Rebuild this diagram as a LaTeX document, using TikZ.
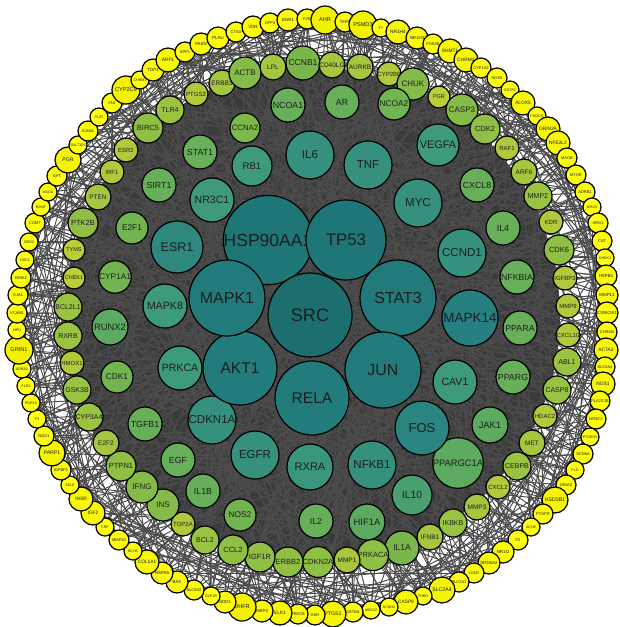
\documentclass[tikz,border=0pt]{standalone}
\usepackage{fontspec}
\setmainfont{Liberation Sans}
\pgfdeclarelayer{disk}
\pgfdeclarelayer{edges}
\pgfsetlayers{disk,edges,main}
\definecolor{txtcol}{HTML}{1E1E1E}
\definecolor{edgecol}{HTML}{4C4C4C}
\definecolor{diskcol}{HTML}{3B3B3B}
\definecolor{srccol}{HTML}{1D6E6E}
\definecolor{h1col}{HTML}{1F7676}
\definecolor{h2col}{HTML}{237C7C}
\definecolor{m1col}{HTML}{267F80}
\definecolor{m2col}{HTML}{3D9A7B}
\definecolor{t1col}{HTML}{3E9A78}
\definecolor{t2col}{HTML}{7CB94A}
\definecolor{q1col}{HTML}{7AB74B}
\definecolor{q2col}{HTML}{BACE38}
\definecolor{o1col}{HTML}{F2F200}
\definecolor{o2col}{HTML}{FFFF10}
\newcommand{\setring}[5]{\def\rcA{#1}\def\rcB{#2}\def\rmin{#3}\def\rmax{#4}\def\fsf{#5}}
\newcommand{\gn}[5]{%
  \pgfmathsetmacro\gd{2*#4}%
  \pgfmathsetmacro\gfs{\fsf*#4}%
  \pgfmathtruncatemacro\gp{max(0,min(100,100*(#4-\rmin)/(\rmax-\rmin)))}%
  \node[gn,minimum size=\gd pt,fill=\rcA!\gp!\rcB,font=\fontsize{\gfs pt}{\gfs pt}\selectfont] (#1) at (#2,#3) {#5};}
\begin{document}
\begin{tikzpicture}[x=1pt,y=-1pt,
  gn/.style={circle,draw=black,line width=1.2pt,inner sep=0pt,text=txtcol},
  lnk/.style={draw=edgecol,line width=0.95pt}]
\useasboundingbox (0,0) rectangle (619,627);
% ---------- outer ring ----------
\setring{o1col}{o2col}{9}{14}{0.4}
\gn{o1}{35}{223}{10}{COMT}
\gn{o2}{41}{207}{9}{BDNF}
\gn{o3}{48}{192}{9}{MAOA}
\gn{o4}{57}{176}{10}{GPT}
\gn{o5}{68}{160}{13}{PGR}
\gn{o6}{78}{145}{9}{SULT1E1}
\gn{o7}{88}{131}{10}{ICAM1}
\gn{o8}{99}{117}{9}{PLAT}
\gn{o9}{112}{103}{10}{F10}
\gn{o10}{126}{90}{14}{CYP2C9}
\gn{o11}{140}{80}{9}{CHRM1}
\gn{o12}{153}{70}{11}{TOP1}
\gn{o13}{168}{60}{12}{ARF1}
\gn{o14}{185}{52}{10}{SPP1}
\gn{o15}{201}{44}{11}{FASN}
\gn{o16}{218}{38}{11}{PLAU}
\gn{o17}{236}{32}{10}{CTSD}
\gn{o18}{253}{27}{11}{VDR}
\gn{o19}{270}{23}{10}{DPP4}
\gn{o20}{288}{20}{11}{EGR1}
\gn{o21}{307}{19}{10}{F2R}
\gn{o22}{325}{20}{14}{AHR}
\gn{o23}{345}{22}{10}{TERT}
\gn{o24}{363}{25}{14}{PSMD3}
\gn{o25}{381}{28}{9}{F7}
\gn{o26}{398}{32}{12}{NR1H4}
\gn{o27}{417}{38}{11}{NR1H3}
\gn{o28}{433}{44}{10}{PDE4B}
\gn{o29}{450}{51}{12}{SHMT1}
\gn{o30}{466}{60}{12}{CHRM2}
\gn{o31}{481}{68}{10}{CYP1A2}
\gn{o32}{497}{78}{10}{NOS3}
\gn{o33}{510}{90}{9}{GSTP1}
\gn{o34}{523}{103}{12}{ALOX5}
\gn{o35}{537}{116}{9}{PIK3CG}
\gn{o36}{548}{129}{12}{GRIN2A}
\gn{o37}{558}{143}{12}{NFE2L2}
\gn{o38}{567}{158}{10}{MAOB}
\gn{o39}{576}{175}{10}{MTOR}
\gn{o40}{585}{192}{10}{ADRB1}
\gn{o41}{592}{207}{9}{NR1I3}
\gn{o42}{598}{223}{10}{ARG1}
\gn{o43}{602}{241}{10}{CAT}
\gn{o44}{605}{258}{9}{CHEK2}
\gn{o45}{606}{276}{11}{HSPB1}
\gn{o46}{607}{295}{11}{MMP13}
\gn{o47}{607}{313}{11}{CSNK2A1}
\gn{o48}{607}{332}{10}{CHRM3}
\gn{o49}{606}{350}{12}{ACTA2}
\gn{o50}{605}{367}{10}{SLC6A4}
\gn{o51}{603}{384}{12}{NOS1}
\gn{o52}{600}{401}{10}{PLA2G1B}
\gn{o53}{596}{419}{10}{NR3C2}
\gn{o54}{590}{437}{9}{PTGER3}
\gn{o55}{583}{454}{10}{SCN5A}
\gn{o56}{575}{470}{9}{PLG}
\gn{o57}{566}{485}{10}{GRIA2}
\gn{o58}{555}{500}{13}{HSD3B1}
\gn{o59}{543}{514}{10}{PTGFR}
\gn{o60}{531}{527}{9}{ACHE}
\gn{o61}{518}{540}{10}{F2}
\gn{o62}{503}{552}{11}{NR1I2}
\gn{o63}{489}{563}{11}{SRD5A2}
\gn{o64}{474}{573}{10}{LDLR}
\gn{o65}{459}{582}{10}{SLC2A1}
\gn{o66}{442}{590}{13}{SLC2A4}
\gn{o67}{423}{596}{9}{THBD}
\gn{o68}{406}{602}{12}{CASP9}
\gn{o69}{389}{607}{9}{KCNH2}
\gn{o70}{371}{610}{9}{ABCG2}
\gn{o71}{353}{612}{10}{GSTM1}
\gn{o72}{333}{614}{13}{PTGS1}
\gn{o73}{315}{615}{10}{GSR}
\gn{o74}{298}{614}{10}{PRKCB}
\gn{o75}{280}{613}{12}{ELK1}
\gn{o76}{262}{611}{11}{MAP2}
\gn{o77}{242}{607}{14}{DHFR}
\gn{o78}{225}{602}{11}{SOD1}
\gn{o79}{211}{596}{9}{GLP1R}
\gn{o80}{194}{590}{10}{SLC6A2}
\gn{o81}{177}{582}{11}{BAX}
\gn{o82}{162}{573}{11}{HSPA5}
\gn{o83}{147}{562}{12}{COL1A1}
\gn{o84}{133}{551}{9}{BCHE}
\gn{o85}{119}{540}{10}{MMP10}
\gn{o86}{105}{527}{9}{CRP}
\gn{o87}{93}{513}{12}{IGF2}
\gn{o88}{81}{499}{12}{INSR}
\gn{o89}{70}{485}{9}{SELE}
\gn{o90}{61}{470}{10}{IGFBP1}
\gn{o91}{52}{453}{13}{PARP1}
\gn{o92}{44}{436}{10}{NQO1}
\gn{o93}{37}{419}{9}{F3}
\gn{o94}{31}{403}{9}{PDE3A}
\gn{o95}{26}{386}{9}{PLD1}
\gn{o96}{22}{369}{9}{ADRB2}
\gn{o97}{19}{350}{14}{GRIN1}
\gn{o98}{17}{330}{9}{MPO}
\gn{o99}{17}{313}{10}{VCAM1}
\gn{o100}{18}{295}{10}{GJA1}
\gn{o101}{21}{278}{10}{GRIK2}
\gn{o102}{25}{260}{9}{ODC1}
\gn{o103}{29}{242}{9}{DRD2}
% ---------- ring 4 ----------
\setring{q1col}{q2col}{11}{17}{0.5}
\gn{q1}{196}{94}{12}{PTGS2}
\gn{q2}{222}{83}{13}{ERBB3}
\gn{q3}{245}{73}{16}{ACTB}
\gn{q4}{273}{67}{13}{LPL}
\gn{q5}{303}{63}{17}{CCNB1}
\gn{q6}{332}{65}{13}{CD40LG}
\gn{q7}{360}{67}{13}{AURKB}
\gn{q8}{389}{74}{12}{CYP2B6}
\gn{q9}{413}{84}{16}{CHUK}
\gn{q10}{439}{97}{11}{PGR}
\gn{q11}{462}{110}{16}{CASP3}
\gn{q12}{485}{129}{15}{CDK2}
\gn{q13}{507}{148}{12}{RAF1}
\gn{q14}{524}{172}{13}{ARF6}
\gn{q15}{538}{196}{14}{MMP2}
\gn{q16}{551}{222}{12}{KDR}
\gn{q17}{559}{250}{15}{CDK6}
\gn{q18}{565}{278}{12}{IGFBP3}
\gn{q19}{568}{306}{12}{MMP9}
\gn{q20}{568}{335}{12}{CXCL10}
\gn{q21}{567}{362}{14}{ABL1}
\gn{q22}{557}{390}{14}{CASP8}
\gn{q23}{545}{416}{12}{HDAC2}
\gn{q24}{532}{443}{13}{MET}
\gn{q25}{517}{466}{14}{CEBPB}
\gn{q26}{498}{487}{12}{CXCL2}
\gn{q27}{477}{507}{13}{MMP3}
\gn{q28}{453}{523}{14}{IKBKB}
\gn{q29}{430}{537}{13}{IFNB1}
\gn{q30}{402}{548}{17}{IL1A}
\gn{q31}{373}{555}{15}{PRKACA}
\gn{q32}{347}{560}{13}{MMP1}
\gn{q33}{318}{562}{15}{CDKN2A}
\gn{q34}{288}{562}{15}{ERBB2}
\gn{q35}{260}{557}{15}{IGF1R}
\gn{q36}{233}{550}{15}{CCL2}
\gn{q37}{205}{540}{14}{BCL2}
\gn{q38}{183}{524}{12}{TOP2A}
\gn{q39}{163}{505}{16}{INS}
\gn{q40}{142}{487}{16}{IFNG}
\gn{q41}{121}{466}{15}{PTPN1}
\gn{q42}{106}{443}{13}{E2F2}
\gn{q43}{89}{417}{14}{CYP3A4}
\gn{q44}{77}{390}{14}{GSK3B}
\gn{q45}{72}{363}{12}{HMOX1}
\gn{q46}{68}{336}{14}{RXRB}
\gn{q47}{68}{307}{14}{BCL2L1}
\gn{q48}{74}{278}{11}{CHEK1}
\gn{q49}{74}{250}{11}{TYMS}
\gn{q50}{83}{223}{15}{PTK2B}
\gn{q51}{98}{197}{13}{PTEN}
\gn{q52}{112}{172}{12}{IRF1}
\gn{q53}{126}{150}{12}{ESR2}
\gn{q54}{148}{128}{15}{BIRC5}
\gn{q55}{170}{110}{14}{TLR4}
% ---------- ring 3 ----------
\setring{t1col}{t2col}{15}{21}{0.52}
\gn{t1}{245}{128}{15}{CCNA2}
\gn{t2}{288}{105}{17}{NCOA1}
\gn{t3}{342}{102}{17}{AR}
\gn{t4}{394}{104}{16}{NCOA2}
\gn{t5}{438}{145}{21}{VEGFA}
\gn{t6}{477}{185}{17}{CXCL8}
\gn{t7}{503}{228}{17}{IL4}
\gn{t8}{517}{277}{17}{NFKBIA}
\gn{t9}{520}{328}{17}{PPARA}
\gn{t10}{513}{377}{17}{PPARG}
\gn{t11}{490}{425}{18}{JAK1}
\gn{t12}{458}{463}{18}{PPARGC1A}
\gn{t13}{412}{495}{20}{IL10}
\gn{t14}{367}{522}{18}{HIF1A}
\gn{t15}{316}{521}{17}{IL2}
\gn{t16}{240}{515}{16}{NOS2}
\gn{t17}{203}{491}{17}{IL1B}
\gn{t18}{178}{460}{17}{EGF}
\gn{t19}{145}{424}{17}{TGFB1}
\gn{t20}{117}{377}{16}{CDK1}
\gn{t21}{110}{327}{18}{RUNX2}
\gn{t22}{115}{277}{16}{CYP1A1}
\gn{t23}{132}{228}{16}{E2F1}
\gn{t24}{159}{185}{17}{SIRT1}
\gn{t25}{200}{152}{17}{STAT1}
% ---------- ring 2 ----------
\setring{m1col}{m2col}{22}{28}{0.48}
\gn{m1}{252}{166}{20}{RB1}
\gn{m2}{310}{155}{24}{IL6}
\gn{m3}{368}{165}{24}{TNF}
\gn{m4}{418}{203}{24}{MYC}
\gn{m5}{462}{253}{24}{CCND1}
\gn{m6}{470}{318}{28}{MAPK14}
\gn{m7}{455}{382}{22}{CAV1}
\gn{m8}{422}{428}{27}{FOS}
\gn{m9}{372}{465}{24}{NFKB1}
\gn{m10}{310}{467}{23}{RXRA}
\gn{m11}{255}{455}{24}{EGFR}
\gn{m12}{212}{420}{24}{CDKN1A}
\gn{m13}{180}{368}{22}{PRKCA}
\gn{m14}{165}{306}{22}{MAPK8}
\gn{m15}{177}{247}{26}{ESR1}
\gn{m16}{212}{200}{22}{NR3C1}
% ---------- ring 1 ----------
\setring{h1col}{h2col}{37}{40}{0.42}
\gn{h2}{268}{240}{40}{\fontsize{17.5pt}{17.5pt}\selectfont HSP90AA1}
\gn{h3}{346}{240}{40}{TP53}
\gn{h4}{398}{298}{38}{STAT3}
\gn{h5}{383}{370}{38}{JUN}
\gn{h6}{312}{398}{37}{RELA}
\gn{h7}{240}{368}{37}{AKT1}
\gn{h8}{227}{298}{38}{MAPK1}
\setring{srccol}{srccol}{1}{2}{0.43}
\gn{h1}{310}{315}{42}{SRC}
% ---------- background ----------
\begin{pgfonlayer}{disk}
\fill[diskcol] (312,316) circle[radius=248];
\end{pgfonlayer}
% ---------- edges ----------
\pgfmathsetseed{2024}
\begin{pgfonlayer}{edges}
\foreach \i in {1,...,103}{
  \foreach \k in {1,2,3}{\pgfmathrandominteger{\rj}{1}{8}\draw[lnk] (o\i) -- (h\rj);}
  \foreach \k in {1,2}{\pgfmathrandominteger{\rj}{1}{16}\draw[lnk] (o\i) -- (m\rj);}
  \foreach \k in {1,2}{\pgfmathrandominteger{\rj}{1}{25}\draw[lnk] (o\i) -- (t\rj);}
  \pgfmathrandominteger{\rj}{1}{55}\draw[lnk] (o\i) -- (q\rj);
  \foreach \k in {1,2}{\pgfmathrandominteger{\rd}{3}{18}\pgfmathtruncatemacro\rj{mod(\i+\rd-1,103)+1}\draw[lnk] (o\i) -- (o\rj);}
}
\end{pgfonlayer}
\end{tikzpicture}
\end{document}
